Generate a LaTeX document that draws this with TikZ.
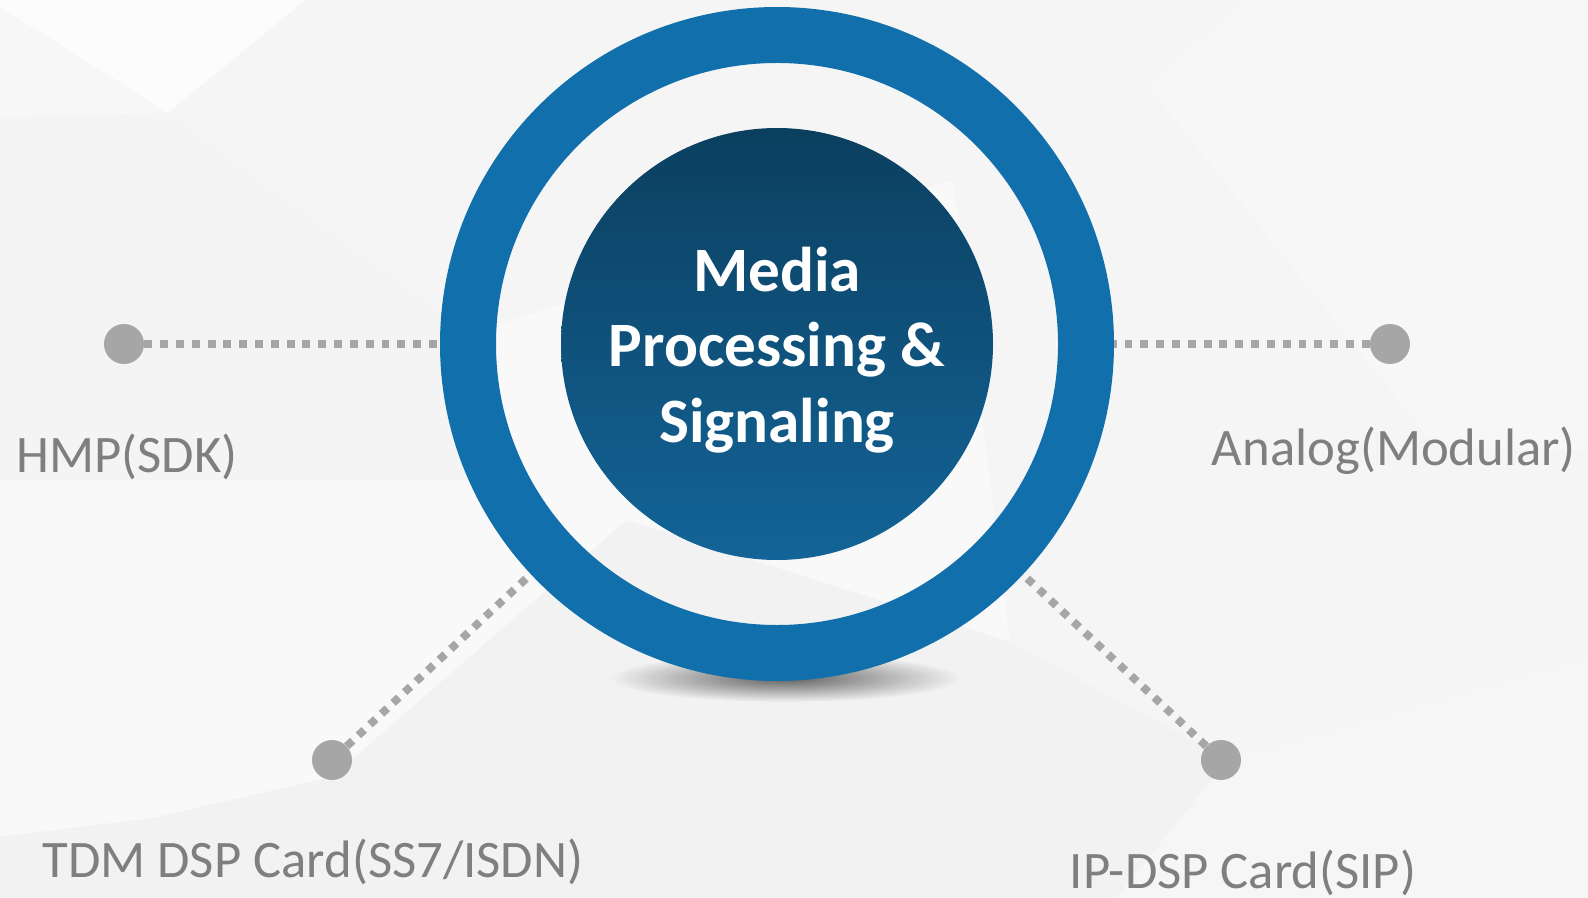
\documentclass[tikz,border=0pt]{standalone}
\usepackage{fontspec}
\setmainfont{Carlito}
\usetikzlibrary{fadings}

\definecolor{ringblue}{RGB}{17,111,171}
\definecolor{discdark}{RGB}{11,63,95}
\definecolor{discmid}{RGB}{12,68,104}
\definecolor{disclight}{RGB}{19,100,152}
\definecolor{dotgray}{RGB}{166,166,166}
\definecolor{labelgray}{RGB}{127,127,127}
\tikzfading[name=softshadow, inner color=transparent!0, outer color=transparent!100]

\begin{document}
\begin{tikzpicture}[x=0.02cm, y=-0.02cm,
      dot/.style={circle, fill=dotgray, minimum size=0.8cm, inner sep=0pt},
      link/.style={draw=dotgray, line width=4.5pt, dash pattern=on 4.5pt off 4.5pt},
      tag/.style={text=labelgray, font=\fontsize{30}{36}\selectfont, anchor=base}
      ]
      \useasboundingbox (0,0) rectangle (1588,898);
      \fill[black!4] (0,0) rectangle (1588,898);
      \fill[black!1] (0,0) -- (306,0) -- (168,113) -- (0,7) -- cycle;
      \fill[black!3] (0,7) -- (168,113) -- (0,118) -- cycle;
      \fill[black!4.5] (0,118) -- (168,113) -- (470,333) -- (500,480) -- (0,480) -- cycle;
      \fill[black!2.5] (0,480) -- (500,480) -- (627,520) -- (332,777) -- (153,818) -- (0,837) -- cycle;
      \fill[black!5] (0,837) -- (153,818) -- (332,777) -- (800,898) -- (0,898) -- cycle;
      \fill[black!4] (306,0) -- (1244,0) -- (1149,88) -- (953,180) -- (470,333) -- (168,113) -- cycle;
      \fill[black!3] (1244,0) -- (1588,0) -- (1588,450) -- (1438,450) -- (1149,88) -- cycle;
      \fill[black!4] (1149,88) -- (1438,450) -- (1588,450) -- (1588,657) -- (1228,760) -- (1010,642) -- (953,180) -- cycle;
      \fill[black!2.5] (470,333) -- (953,180) -- (1010,642) -- (627,520) -- (500,480) -- cycle;
      \fill[black!5] (627,520) -- (1010,642) -- (1228,760) -- (1116,898) -- (800,898) -- (332,777) -- cycle;
      \fill[black!3.5] (1228,760) -- (1588,657) -- (1588,898) -- (1116,898) -- cycle;

      \node[circle, minimum size=13.48cm, inner sep=0pt] (ring) at (777,344) {};
      \node[dot] (hmp) at (124,344) {};
      \node[dot] (analog) at (1390,344) {};
      \node[dot] (tdm) at (332,760) {};
      \node[dot] (ipdsp) at (1221,760) {};
      \draw[link] (hmp) -- (ring);
      \draw[link] (analog) -- (ring);
      \draw[link] (tdm) -- (ring);
      \draw[link] (ipdsp) -- (ring);

      \fill[black, opacity=0.6, path fading=softshadow] (785,678) ellipse [x radius=175, y radius=24];
      \draw[ringblue, line width=1.12cm] (ring.center) circle [radius=309];
      \shade[top color=discdark, middle color=discmid, bottom color=disclight] (ring.center) circle [radius=216];
      \node[text=white, font=\bfseries\fontsize{36}{43}\selectfont, align=center] (title) at (777,350) {Media\\Processing \&\\Signaling};

      \node[tag] (hmplabel) at (127,472) {HMP(SDK)};
      \node[tag] (analoglabel) at (1394,465) {Analog(Modular)};
      \node[tag] (tdmlabel) at (313,877) {TDM DSP Card(SS7/ISDN)};
      \node[tag] (ipdsplabel) at (1243,888) {IP-DSP Card(SIP)};
    \end{tikzpicture}
\end{document}
